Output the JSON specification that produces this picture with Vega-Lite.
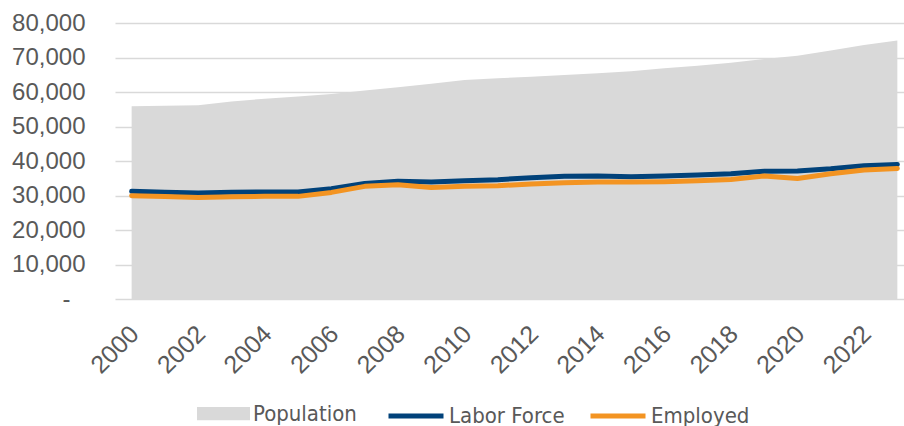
{
  "$schema": "https://vega.github.io/schema/vega-lite/v6.json",
  "width": 789,
  "height": 276,
  "autosize": {"type": "none"},
  "padding": {"left": 115, "top": 23, "right": 0, "bottom": 127},
  "background": "white",
  "config": {
    "view": {"stroke": null},
    "axisY": {"labelOverlap": false, "labelFont": "Liberation Sans", "labelFontSize": 24, "labelColor": "#595959", "ticks": false, "domain": false, "gridColor": "#d9d9d9", "gridWidth": 1.3}
  },
  "data": {
    "values": [
      {"year": 2000, "Population": 55900, "Labor Force": 31200, "Employed": 29950},
      {"year": 2001, "Population": 56050, "Labor Force": 30950, "Employed": 29700},
      {"year": 2002, "Population": 56150, "Labor Force": 30700, "Employed": 29450},
      {"year": 2003, "Population": 57250, "Labor Force": 30950, "Employed": 29650},
      {"year": 2004, "Population": 58050, "Labor Force": 31000, "Employed": 29750},
      {"year": 2005, "Population": 58700, "Labor Force": 31000, "Employed": 29750},
      {"year": 2006, "Population": 59450, "Labor Force": 31950, "Employed": 30900},
      {"year": 2007, "Population": 60450, "Labor Force": 33500, "Employed": 32650},
      {"year": 2008, "Population": 61350, "Labor Force": 34100, "Employed": 33100},
      {"year": 2009, "Population": 62400, "Labor Force": 33900, "Employed": 32350},
      {"year": 2010, "Population": 63450, "Labor Force": 34300, "Employed": 32650},
      {"year": 2011, "Population": 63950, "Labor Force": 34600, "Employed": 32850},
      {"year": 2012, "Population": 64450, "Labor Force": 35150, "Employed": 33350},
      {"year": 2013, "Population": 64900, "Labor Force": 35550, "Employed": 33700},
      {"year": 2014, "Population": 65400, "Labor Force": 35650, "Employed": 33900},
      {"year": 2015, "Population": 66050, "Labor Force": 35450, "Employed": 33900},
      {"year": 2016, "Population": 66850, "Labor Force": 35650, "Employed": 34000},
      {"year": 2017, "Population": 67600, "Labor Force": 35950, "Employed": 34300},
      {"year": 2018, "Population": 68500, "Labor Force": 36300, "Employed": 34650},
      {"year": 2019, "Population": 69550, "Labor Force": 37000, "Employed": 35650},
      {"year": 2020, "Population": 70500, "Labor Force": 37100, "Employed": 34950},
      {"year": 2021, "Population": 72050, "Labor Force": 37750, "Employed": 36300},
      {"year": 2022, "Population": 73600, "Labor Force": 38650, "Employed": 37400},
      {"year": 2023, "Population": 74950, "Labor Force": 39000, "Employed": 37850}
    ]
  },
  "encoding": {
    "x": {
      "field": "year",
      "type": "quantitative",
      "scale": {"domain": [1999.5, 2023.2], "nice": false, "zero": false},
      "axis": {
        "title": null,
        "values": [2000, 2002, 2004, 2006, 2008, 2010, 2012, 2014, 2016, 2018, 2020, 2022],
        "format": "d",
        "labelAngle": -45,
        "labelFlush": false,
        "labelOverlap": false,
        "grid": false,
        "ticks": false,
        "domain": false,
        "labelFont": "Liberation Sans",
        "labelFontSize": 25,
        "labelColor": "#595959",
        "labelPadding": 22,
        "labelOffset": -6
      }
    },
    "y": {
      "type": "quantitative",
      "scale": {"domain": [0, 80000], "nice": false},
      "axis": {
        "title": null,
        "values": [0, 10000, 20000, 30000, 40000, 50000, 60000, 70000, 80000],
        "labelExpr": "datum.value === 0 ? '-' : format(datum.value, ',')",
        "labelPadding": {"condition": {"test": "datum.value === 0", "value": 45}, "value": 30},
        "labelOverlap": false,
        "grid": true
      }
    }
  },
  "layer": [
    {
      "mark": {"type": "area", "opacity": 1},
      "encoding": {
        "y": {
          "field": "Population",
          "type": "quantitative",
          "scale": {"domain": [0, 80000], "nice": false},
          "axis": {
            "title": null,
            "values": [0, 10000, 20000, 30000, 40000, 50000, 60000, 70000, 80000],
            "labelExpr": "datum.value === 0 ? '-' : format(datum.value, ',')",
            "labelPadding": {"condition": {"test": "datum.value === 0", "value": 45}, "value": 30},
            "labelOverlap": false,
            "grid": true
          }
        },
        "fill": {
          "datum": "Population",
          "type": "nominal",
          "scale": {"domain": ["Population"], "range": ["#d9d9d9"]},
          "legend": {
            "orient": "none",
            "legendX": 82,
            "legendY": 364,
            "direction": "horizontal",
            "title": null,
            "symbolType": "M-1,-0.25H1V0.25H-1Z",
            "symbolSize": 2809,
            "symbolStrokeWidth": 0,
            "symbolOpacity": 1,
            "labelFont": "DejaVu Sans Condensed, Roboto Condensed, Roboto",
            "labelFontSize": 22,
            "labelColor": "#595959",
            "labelOffset": 3
          }
        }
      }
    },
    {
      "transform": [{"fold": ["Labor Force", "Employed"], "as": ["series", "value"]}],
      "mark": {"type": "line", "strokeWidth": 5, "strokeCap": "round", "strokeJoin": "round"},
      "encoding": {
        "y": {
          "field": "value",
          "type": "quantitative",
          "axis": {
            "title": null,
            "values": [0, 10000, 20000, 30000, 40000, 50000, 60000, 70000, 80000],
            "labelExpr": "datum.value === 0 ? '-' : format(datum.value, ',')",
            "labelPadding": {"condition": {"test": "datum.value === 0", "value": 45}, "value": 30},
            "labelOverlap": false,
            "grid": true
          }
        },
        "stroke": {
          "field": "series",
          "type": "nominal",
          "sort": ["Labor Force", "Employed"],
          "scale": {"domain": ["Labor Force", "Employed"], "range": ["#01427a", "#f39422"]},
          "legend": {
            "orient": "none",
            "legendX": 271,
            "legendY": 363,
            "direction": "horizontal",
            "title": null,
            "symbolType": "stroke",
            "symbolSize": 3025,
            "symbolStrokeWidth": 5,
            "labelFont": "DejaVu Sans Condensed, Roboto Condensed, Roboto",
            "labelFontSize": 22,
            "labelColor": "#595959",
            "labelOffset": 3,
            "columnPadding": 15
          }
        }
      }
    }
  ]
}
